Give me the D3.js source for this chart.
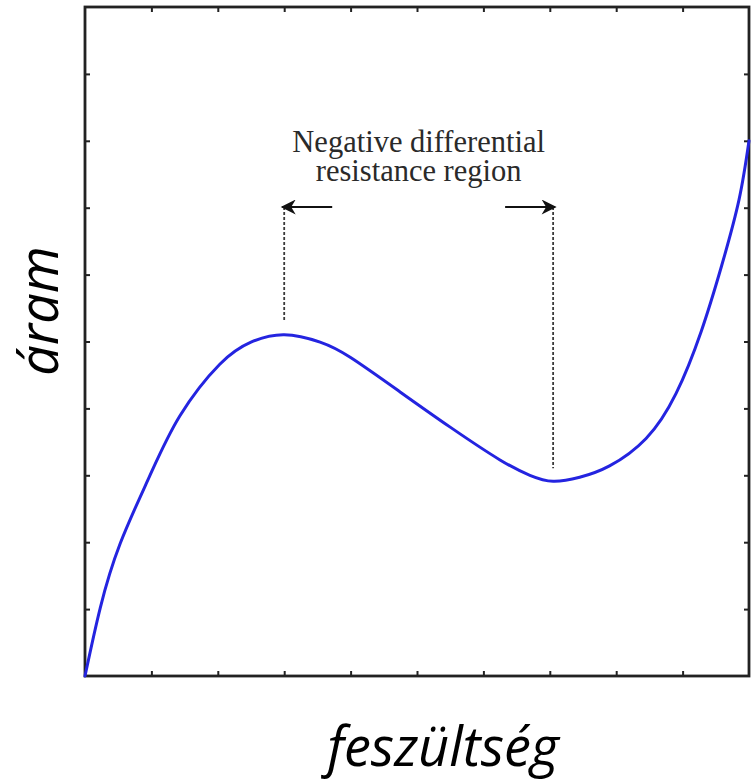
<!DOCTYPE html>
<html>
<head>
<meta charset="utf-8">
<script src="https://cdn.jsdelivr.net/npm/d3@7"></script>
<style>
html,body{margin:0;padding:0;background:#fff;}
svg{display:block;}
</style>
</head>
<body>
<svg id="chart" width="751" height="781"></svg>
<script>
// Data
const voltage = [0, 0.23, 0.53, 0.97, 1.43, 2.03, 2.5, 3.0, 3.54, 4.0, 4.74, 5.5, 6.25, 6.7, 7.05, 7.45, 7.9, 8.45, 8.9, 9.28, 9.59, 9.85, 10.0];
const current = [0, 1.02, 1.98, 2.98, 3.89, 4.66, 4.99, 5.10, 4.99, 4.76, 4.25, 3.72, 3.23, 3.0, 2.91, 2.97, 3.14, 3.55, 4.22, 5.15, 6.14, 7.12, 8.0];
const tickValues = [1, 2, 3, 4, 5, 6, 7, 8, 9];
const ndrStart = 3.0, ndrEnd = 7.05;
const ndrPeak = 5.10, ndrValley = 2.91;
const annotationLines = ["Negative differential", "resistance region"];
const xLabel = "feszültség";
const yLabel = "áram";

const svg = d3.select("#chart");
const x = d3.scaleLinear().domain([0, 10]).range([85, 749]);
const y = d3.scaleLinear().domain([0, 10]).range([676, 7]);

const tickLen = 5;
const frameColor = "#222";

// Axes with inward ticks on all four sides
svg.append("g").attr("transform", `translate(0,${y(0)})`)
  .call(d3.axisBottom(x).tickValues(tickValues).tickSizeInner(-tickLen).tickSizeOuter(0).tickFormat(""));
svg.append("g").attr("transform", `translate(0,${y(10)})`)
  .call(d3.axisTop(x).tickValues(tickValues).tickSizeInner(-tickLen).tickSizeOuter(0).tickFormat(""));
svg.append("g").attr("transform", `translate(${x(0)},0)`)
  .call(d3.axisLeft(y).tickValues(tickValues).tickSizeInner(-tickLen).tickSizeOuter(0).tickFormat(""));
svg.append("g").attr("transform", `translate(${x(10)},0)`)
  .call(d3.axisRight(y).tickValues(tickValues).tickSizeInner(-tickLen).tickSizeOuter(0).tickFormat(""));
svg.selectAll(".domain").remove();
svg.selectAll(".tick line").attr("stroke", frameColor).attr("stroke-width", 2);

// Frame
svg.append("rect")
  .attr("x", x(0)).attr("y", y(10))
  .attr("width", x(10) - x(0)).attr("height", y(0) - y(10))
  .attr("fill", "none").attr("stroke", frameColor).attr("stroke-width", 2.8);

// Dashed guides
const guideTop = 207;
svg.append("line")
  .attr("x1", x(ndrStart)).attr("x2", x(ndrStart))
  .attr("y1", guideTop).attr("y2", y(ndrPeak) - 14)
  .attr("stroke", "#3a3a3a").attr("stroke-width", 1.8).attr("stroke-dasharray", "3,2");
svg.append("line")
  .attr("x1", x(ndrEnd)).attr("x2", x(ndrEnd))
  .attr("y1", guideTop).attr("y2", y(ndrValley) - 13)
  .attr("stroke", "#3a3a3a").attr("stroke-width", 1.8).attr("stroke-dasharray", "3,2");

// Arrows
const defs = svg.append("defs");
defs.append("marker").attr("id", "arr")
  .attr("viewBox", "0 0 10 10").attr("refX", 9).attr("refY", 5)
  .attr("markerWidth", 18).attr("markerHeight", 15).attr("markerUnits", "userSpaceOnUse")
  .attr("orient", "auto")
  .append("path").attr("d", "M0,0 L10,5 L0,10 L3,5 Z").attr("fill", "#111");

svg.append("line")
  .attr("x1", x(ndrStart) + 48).attr("x2", x(ndrStart) - 2)
  .attr("y1", guideTop).attr("y2", guideTop)
  .attr("stroke", "#111").attr("stroke-width", 2).attr("marker-end", "url(#arr)");
svg.append("line")
  .attr("x1", x(ndrEnd) - 48).attr("x2", x(ndrEnd) + 2)
  .attr("y1", guideTop).attr("y2", guideTop)
  .attr("stroke", "#111").attr("stroke-width", 2).attr("marker-end", "url(#arr)");

// Annotation text
const annX = (x(ndrStart) + x(ndrEnd)) / 2;
svg.append("g").selectAll("text").data(annotationLines).join("text")
  .attr("x", annX).attr("y", (d, i) => 152 + i * 29)
  .attr("text-anchor", "middle")
  .attr("font-family", "'Liberation Serif', 'Times New Roman', serif")
  .attr("font-size", 30.5).attr("fill", "#2a2a2a")
  .text(d => d);

// Curve
const pts = voltage.map((v, i) => [v, current[i]]);
svg.append("path")
  .datum(pts)
  .attr("fill", "none").attr("stroke", "#2424e0").attr("stroke-width", 3)
  .attr("stroke-linecap", "round")
  .attr("d", d3.line().x(d => x(d[0])).y(d => y(d[1])).curve(d3.curveNatural));

// Axis labels
svg.append("text")
  .attr("x", 443).attr("y", 766)
  .attr("text-anchor", "middle")
  .attr("font-family", "'Open Sans', 'Noto Sans', sans-serif")
  .attr("font-style", "italic")
  .attr("font-size", 54).attr("fill", "#000")
  .text(xLabel);
svg.append("text")
  .attr("transform", "translate(58,311) rotate(-90)")
  .attr("text-anchor", "middle")
  .attr("font-family", "'Open Sans', 'Noto Sans', sans-serif")
  .attr("font-style", "italic")
  .attr("font-size", 54).attr("fill", "#000")
  .text(yLabel);
</script>
</body>
</html>
